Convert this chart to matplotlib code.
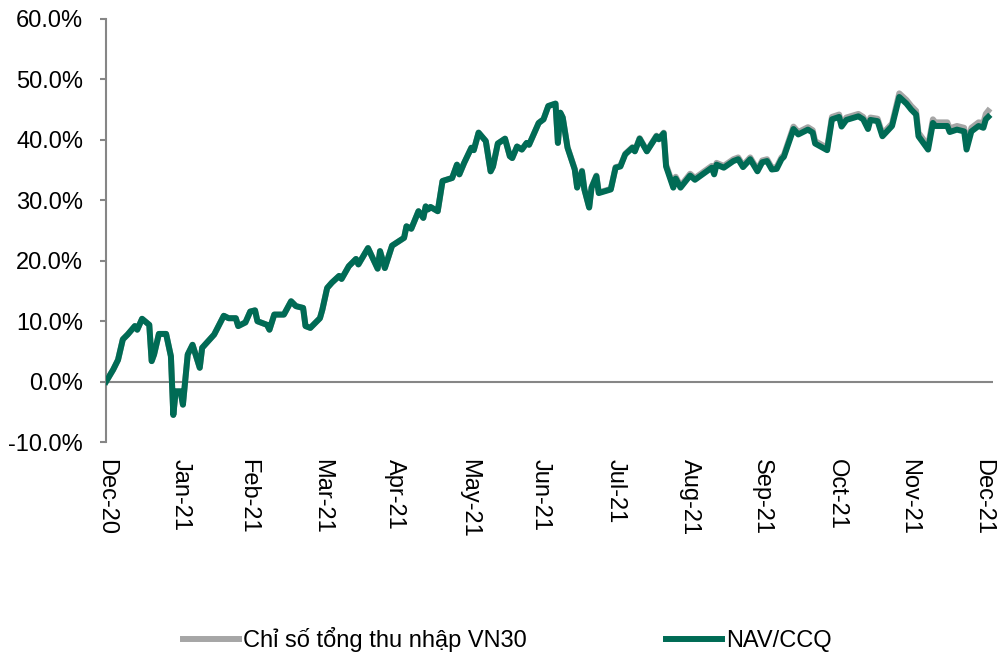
import numpy as np
import pandas as pd
import matplotlib
matplotlib.use('Agg')
import matplotlib.pyplot as plt
from matplotlib.ticker import FuncFormatter

# daily points (cumulative return, %)
dates = ['2020-12-31', '2021-01-03', '2021-01-05', '2021-01-07', '2021-01-09', '2021-01-12',
         '2021-01-13', '2021-01-15', '2021-01-18', '2021-01-19', '2021-01-20', '2021-01-22',
         '2021-01-25', '2021-01-27', '2021-01-28', '2021-01-29', '2021-01-31', '2021-02-01',
         '2021-02-03', '2021-02-05', '2021-02-08', '2021-02-09', '2021-02-14', '2021-02-18',
         '2021-02-20', '2021-02-23', '2021-02-24', '2021-02-27', '2021-03-01', '2021-03-03',
         '2021-03-04', '2021-03-08', '2021-03-09', '2021-03-11', '2021-03-15', '2021-03-18',
         '2021-03-20', '2021-03-23', '2021-03-24', '2021-03-26', '2021-03-30', '2021-03-31',
         '2021-04-02', '2021-04-04', '2021-04-07', '2021-04-08', '2021-04-11', '2021-04-14',
         '2021-04-15', '2021-04-19', '2021-04-23', '2021-04-24', '2021-04-26', '2021-04-29',
         '2021-05-04', '2021-05-05', '2021-05-07', '2021-05-10', '2021-05-12', '2021-05-13',
         '2021-05-14', '2021-05-15', '2021-05-18', '2021-05-20', '2021-05-24', '2021-05-26',
         '2021-05-27', '2021-05-29', '2021-06-01', '2021-06-02', '2021-06-04', '2021-06-07',
         '2021-06-09', '2021-06-10', '2021-06-12', '2021-06-15', '2021-06-17', '2021-06-18',
         '2021-06-20', '2021-06-22', '2021-06-24', '2021-06-25', '2021-06-29', '2021-07-01',
         '2021-07-03', '2021-07-06', '2021-07-07', '2021-07-08', '2021-07-09', '2021-07-11',
         '2021-07-14', '2021-07-15', '2021-07-17', '2021-07-18', '2021-07-20', '2021-07-21',
         '2021-07-23', '2021-07-24', '2021-07-29', '2021-07-31', '2021-08-02', '2021-08-04',
         '2021-08-07', '2021-08-08', '2021-08-10', '2021-08-13', '2021-08-17', '2021-08-18',
         '2021-08-20', '2021-08-21', '2021-08-24', '2021-08-25', '2021-08-27', '2021-08-31',
         '2021-09-02', '2021-09-09', '2021-09-10', '2021-09-11', '2021-09-14', '2021-09-18',
         '2021-09-20', '2021-09-22', '2021-09-25', '2021-09-28', '2021-09-30', '2021-10-02',
         '2021-10-04', '2021-10-06', '2021-10-08', '2021-10-09', '2021-10-13', '2021-10-15',
         '2021-10-19', '2021-10-21', '2021-10-22', '2021-10-27', '2021-10-29', '2021-11-01',
         '2021-11-02', '2021-11-04', '2021-11-09', '2021-11-11', '2021-11-13', '2021-11-14',
         '2021-11-17', '2021-11-19', '2021-11-23', '2021-11-26', '2021-11-29', '2021-12-01',
         '2021-12-03', '2021-12-04', '2021-12-08', '2021-12-10', '2021-12-11', '2021-12-16',
         '2021-12-17', '2021-12-20', '2021-12-23', '2021-12-24', '2021-12-26', '2021-12-29',
         '2021-12-31', '2022-01-01', '2022-01-02']

nav = [0.0, 2.0, 3.6, 7.0, 7.8, 9.2, 8.6, 10.4, 9.4, 3.4, 4.5, 7.9,
       7.9, 4.2, -5.5, -1.6, -1.6, -3.8, 4.5, 6.1, 2.3, 5.6, 7.8, 10.9,
       10.5, 10.5, 9.2, 9.8, 11.6, 11.8, 10.0, 9.4, 8.6, 11.1, 11.1, 13.3,
       12.5, 12.2, 9.2, 8.9, 10.5, 11.9, 15.5, 16.4, 17.5, 17.0, 19.1, 20.3,
       19.4, 22.1, 18.7, 21.6, 18.8, 22.5, 23.8, 25.7, 25.3, 28.2, 27.1, 29.0,
       28.5, 28.9, 28.2, 33.2, 33.7, 35.9, 34.3, 36.2, 38.7, 38.3, 41.2, 39.8,
       34.8, 35.6, 39.4, 40.2, 37.3, 37.0, 38.9, 38.4, 39.5, 39.2, 42.8, 43.4,
       45.6, 46.0, 39.5, 44.5, 43.7, 38.7, 35.1, 32.1, 34.8, 31.8, 28.8, 32.1,
       34.0, 31.2, 31.8, 35.4, 35.6, 37.6, 38.7, 38.1, 40.2, 38.1, 40.6, 40.1,
       41.1, 35.6, 32.1, 33.6, 32.1, 34.1, 33.4, 35.4, 34.3, 35.9, 35.4, 36.5,
       36.8, 35.5, 36.8, 34.8, 36.3, 36.5, 35.1, 35.2, 36.8, 37.2, 41.8, 40.9,
       41.7, 41.2, 39.4, 38.3, 43.4, 43.8, 42.2, 43.3, 43.9, 43.4, 41.8, 43.3,
       43.1, 40.6, 42.3, 47.1, 46.0, 45.0, 44.2, 40.6, 38.4, 42.8, 42.3, 42.3,
       41.3, 41.7, 41.4, 38.4, 41.4, 42.3, 42.0, 43.4, 43.8]

vn30 = [0.0, 2.0, 3.6, 7.0, 7.8, 9.2, 8.6, 10.4, 9.4, 3.4, 4.5, 7.9,
        7.9, 4.2, -5.5, -1.6, -1.6, -3.8, 4.5, 6.1, 2.3, 5.6, 7.8, 10.9,
        10.5, 10.5, 9.2, 9.8, 11.6, 11.8, 10.0, 9.4, 8.6, 11.1, 11.1, 13.3,
        12.5, 12.2, 9.2, 8.9, 10.5, 11.9, 15.5, 16.4, 17.5, 17.0, 19.1, 20.3,
        19.4, 22.1, 18.7, 21.6, 18.8, 22.5, 23.8, 25.7, 25.3, 28.2, 27.1, 29.0,
        28.5, 28.9, 28.2, 33.2, 33.7, 35.9, 34.3, 36.2, 38.7, 38.3, 41.2, 39.8,
        34.8, 35.6, 39.4, 40.2, 37.3, 37.0, 38.9, 38.4, 39.5, 39.2, 42.8, 43.4,
        45.6, 46.0, 39.5, 44.5, 43.7, 38.8, 35.2, 32.2, 34.9, 31.9, 28.9, 32.2,
        34.1, 31.3, 31.9, 35.5, 35.7, 37.7, 38.8, 38.2, 40.3, 38.2, 40.7, 40.2,
        41.2, 35.9, 32.4, 33.9, 32.4, 34.4, 33.7, 35.7, 34.6, 36.2, 35.7, 36.8,
        37.1, 35.8, 37.1, 35.1, 36.6, 36.8, 35.4, 35.5, 37.1, 37.5, 42.2, 41.3,
        42.1, 41.6, 39.8, 38.7, 43.8, 44.2, 42.6, 43.7, 44.3, 43.8, 42.2, 43.7,
        43.5, 41.0, 42.7, 47.7, 46.6, 45.6, 44.8, 41.2, 39.0, 43.4, 42.9, 42.9,
        41.9, 42.3, 42.0, 39.0, 42.0, 42.9, 42.8, 44.3, 44.8]

tick_dates = ['2020-12-31', '2021-01-31', '2021-02-28', '2021-03-31', '2021-04-30',
              '2021-05-31', '2021-06-30', '2021-07-31', '2021-08-31', '2021-09-30',
              '2021-10-31', '2021-11-30', '2021-12-31']
tick_labels = ['Dec-20', 'Jan-21', 'Feb-21', 'Mar-21', 'Apr-21', 'May-21', 'Jun-21',
               'Jul-21', 'Aug-21', 'Sep-21', 'Oct-21', 'Nov-21', 'Dec-21']
series_names = ['Chỉ số tổng thu nhập VN30', 'NAV/CCQ']

plt.rcParams['font.family'] = ['Liberation Sans', 'DejaVu Sans']
axis_grey = '#868686'

fig = plt.figure(figsize=(10, 6.55), dpi=100)
ax = fig.add_axes([0.106, 0.325, 0.887, 0.646])

x = pd.to_datetime(dates)
ax.plot(x, vn30, color='#A6A6A6', lw=4.3, solid_joinstyle='round', label=series_names[0], zorder=3)
ax.plot(x, nav, color='#006B55', lw=4.3, solid_joinstyle='round', label=series_names[1], zorder=4)
ax.axhline(0, color=axis_grey, lw=1.5, zorder=2)

ax.set_ylim(-10, 60)
ax.set_yticks(np.arange(-10, 61, 10))
ax.yaxis.set_major_formatter(FuncFormatter(lambda v, p: f'{v:.1f}%'))
ax.set_xlim(pd.Timestamp('2020-12-31'), pd.Timestamp('2022-01-04'))
ax.set_xticks(pd.to_datetime(tick_dates))
ax.set_xticklabels(tick_labels, rotation=-90, ha='center', va='top')

for s in ['top', 'right', 'bottom']:
    ax.spines[s].set_visible(False)
ax.spines['left'].set_color(axis_grey)
ax.spines['left'].set_linewidth(1.5)
ax.tick_params(axis='y', length=4.5, width=1.5, color=axis_grey, labelsize=17, pad=12)
ax.tick_params(axis='x', length=0, labelsize=17, pad=12)

fig.legend(loc='center', bbox_to_anchor=(0.507, 0.023), ncol=2, frameon=False,
           fontsize=17, handlelength=2.37, handletextpad=0.17, columnspacing=5.9)

fig.savefig('out.png', dpi=100)
